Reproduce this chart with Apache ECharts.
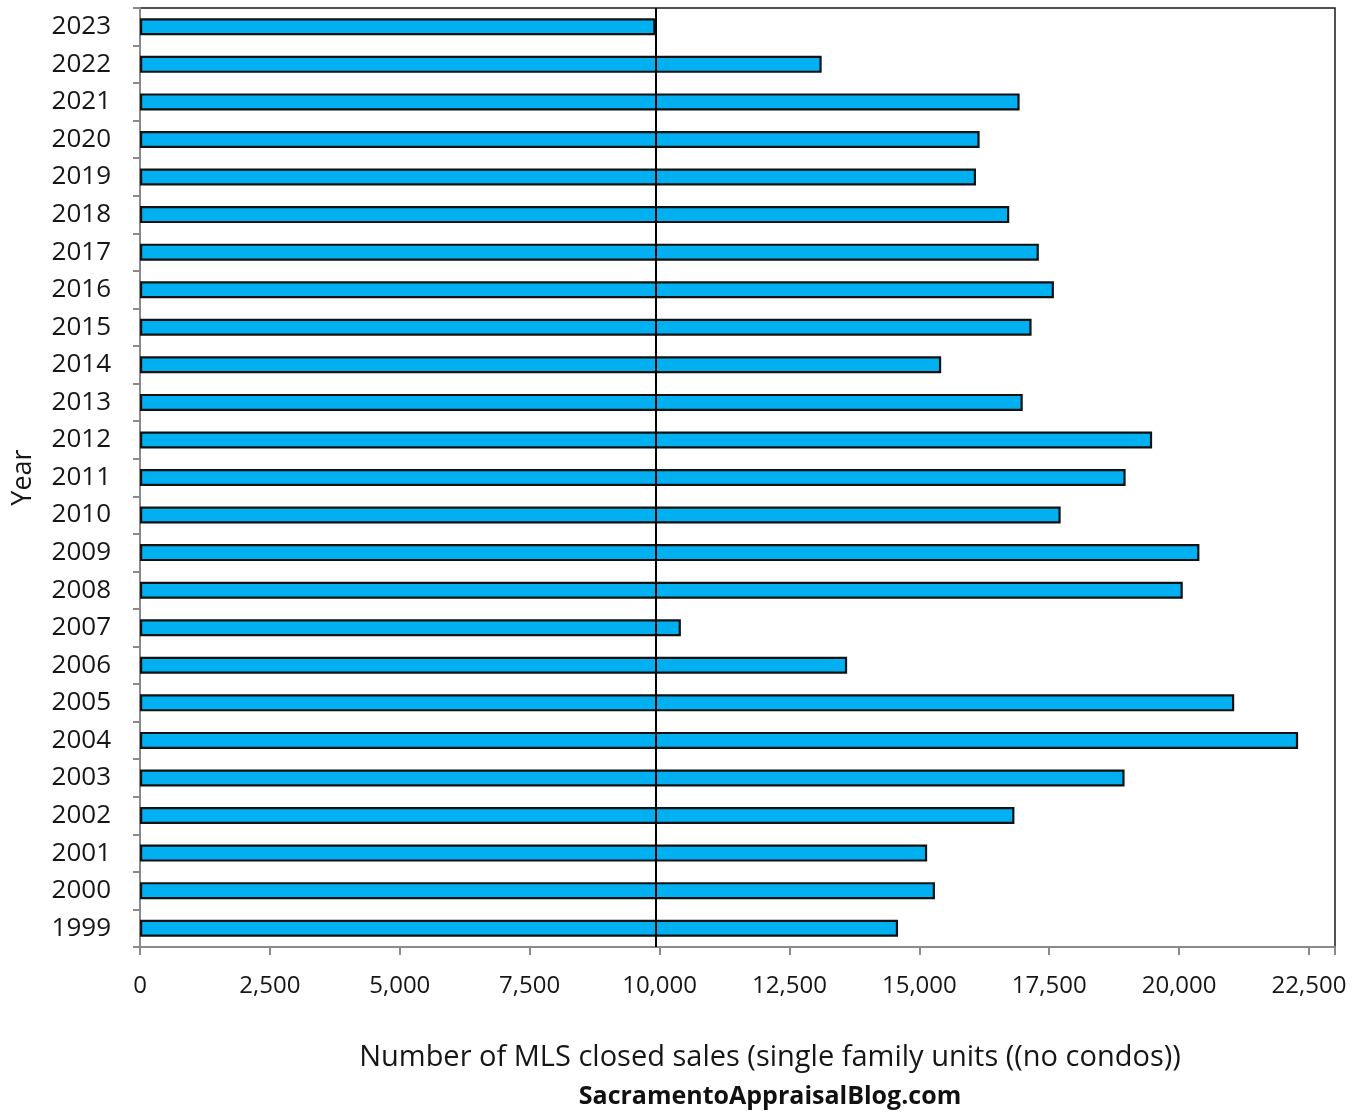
<!DOCTYPE html>
<html>
<head>
<meta charset="utf-8">
<title>MLS closed sales by year</title>
<script src="https://cdn.jsdelivr.net/npm/echarts@6/dist/echarts.min.js"></script>
<style>
  html, body { margin: 0; padding: 0; background: #ffffff; }
  #chart { width: 1352px; height: 1112px; }
</style>
</head>
<body>
<div id="chart"></div>
<script>
// Years, bottom to top
const years = ['1999', '2000', '2001', '2002', '2003', '2004', '2005', '2006', '2007', '2008', '2009', '2010',
               '2011', '2012', '2013', '2014', '2015', '2016', '2017', '2018', '2019', '2020', '2021', '2022', '2023'];

// Number of MLS closed sales (single family units, no condos)
const closedSales = [14590, 15300, 15150, 16830, 18950, 22290, 21060, 13610, 10410, 20070, 20390, 17720,
                     18970, 19480, 16990, 15420, 17160, 17590, 17300, 16730, 16090, 16160, 16930, 13120, 9920];

// Reference line at the latest year's total
const referenceValue = closedSales[closedSales.length - 1];

const xTickStep = 2500;
const xMax = 23000;

const axisTitle = 'Number of MLS closed sales (single family units ((no condos))';
const sourceText = 'SacramentoAppraisalBlog.com';
const yAxisTitle = 'Year';

const FONT = '"Open Sans", "Noto Sans", sans-serif';
const TEXT = '#161616';

const chart = echarts.init(document.getElementById('chart'), null, { renderer: 'canvas' });

chart.setOption({
  backgroundColor: '#ffffff',
  animation: false,
  grid: {
    left: 140,
    right: 17,
    top: 8,
    bottom: 165,
    show: true,
    borderColor: '#1a1a1a',
    borderWidth: 1.5,
    containLabel: false
  },
  xAxis: {
    type: 'value',
    min: 0,
    max: xMax,
    interval: xTickStep,
    splitLine: { show: false },
    axisLine: { show: true, lineStyle: { color: '#8a8a8a', width: 2 } },
    axisTick: { show: true, length: 8, lineStyle: { color: '#8a8a8a', width: 2 } },
    axisLabel: {
      margin: 27,
      color: TEXT,
      fontFamily: FONT,
      fontSize: 24,
      formatter: function (v) {
        if (v % xTickStep !== 0 || v > 22500) return '';
        return v.toLocaleString('en-US');
      }
    }
  },
  yAxis: {
    type: 'category',
    data: years,
    name: yAxisTitle,
    nameLocation: 'middle',
    nameGap: 103,
    nameTextStyle: { color: TEXT, fontFamily: FONT, fontSize: 27 },
    axisLine: { show: true, lineStyle: { color: '#8a8a8a', width: 2 } },
    axisTick: { show: true, length: 7, lineStyle: { color: '#8a8a8a', width: 2 } },
    axisLabel: {
      margin: 29,
      color: TEXT,
      fontFamily: FONT,
      fontSize: 26
    }
  },
  series: [{
    type: 'bar',
    data: closedSales,
    barWidth: 17,
    itemStyle: {
      color: '#00B0F0',
      borderColor: '#111',
      borderWidth: 2.2
    },
    markLine: {
      silent: true,
      symbol: ['none', 'none'],
      label: { show: false },
      lineStyle: { color: '#000', width: 2, type: 'solid' },
      data: [{ xAxis: referenceValue }]
    },
    z: 2
  }],
  graphic: [
    {
      type: 'text',
      x: 770,
      y: 1058,
      style: {
        text: axisTitle,
        fill: TEXT,
        font: '29px ' + FONT,
        textAlign: 'center',
        textVerticalAlign: 'middle'
      }
    },
    {
      type: 'text',
      x: 770,
      y: 1097,
      style: {
        text: sourceText,
        fill: '#111',
        font: 'bold 25px ' + FONT,
        textAlign: 'center',
        textVerticalAlign: 'middle'
      }
    }
  ]
});
</script>
</body>
</html>
